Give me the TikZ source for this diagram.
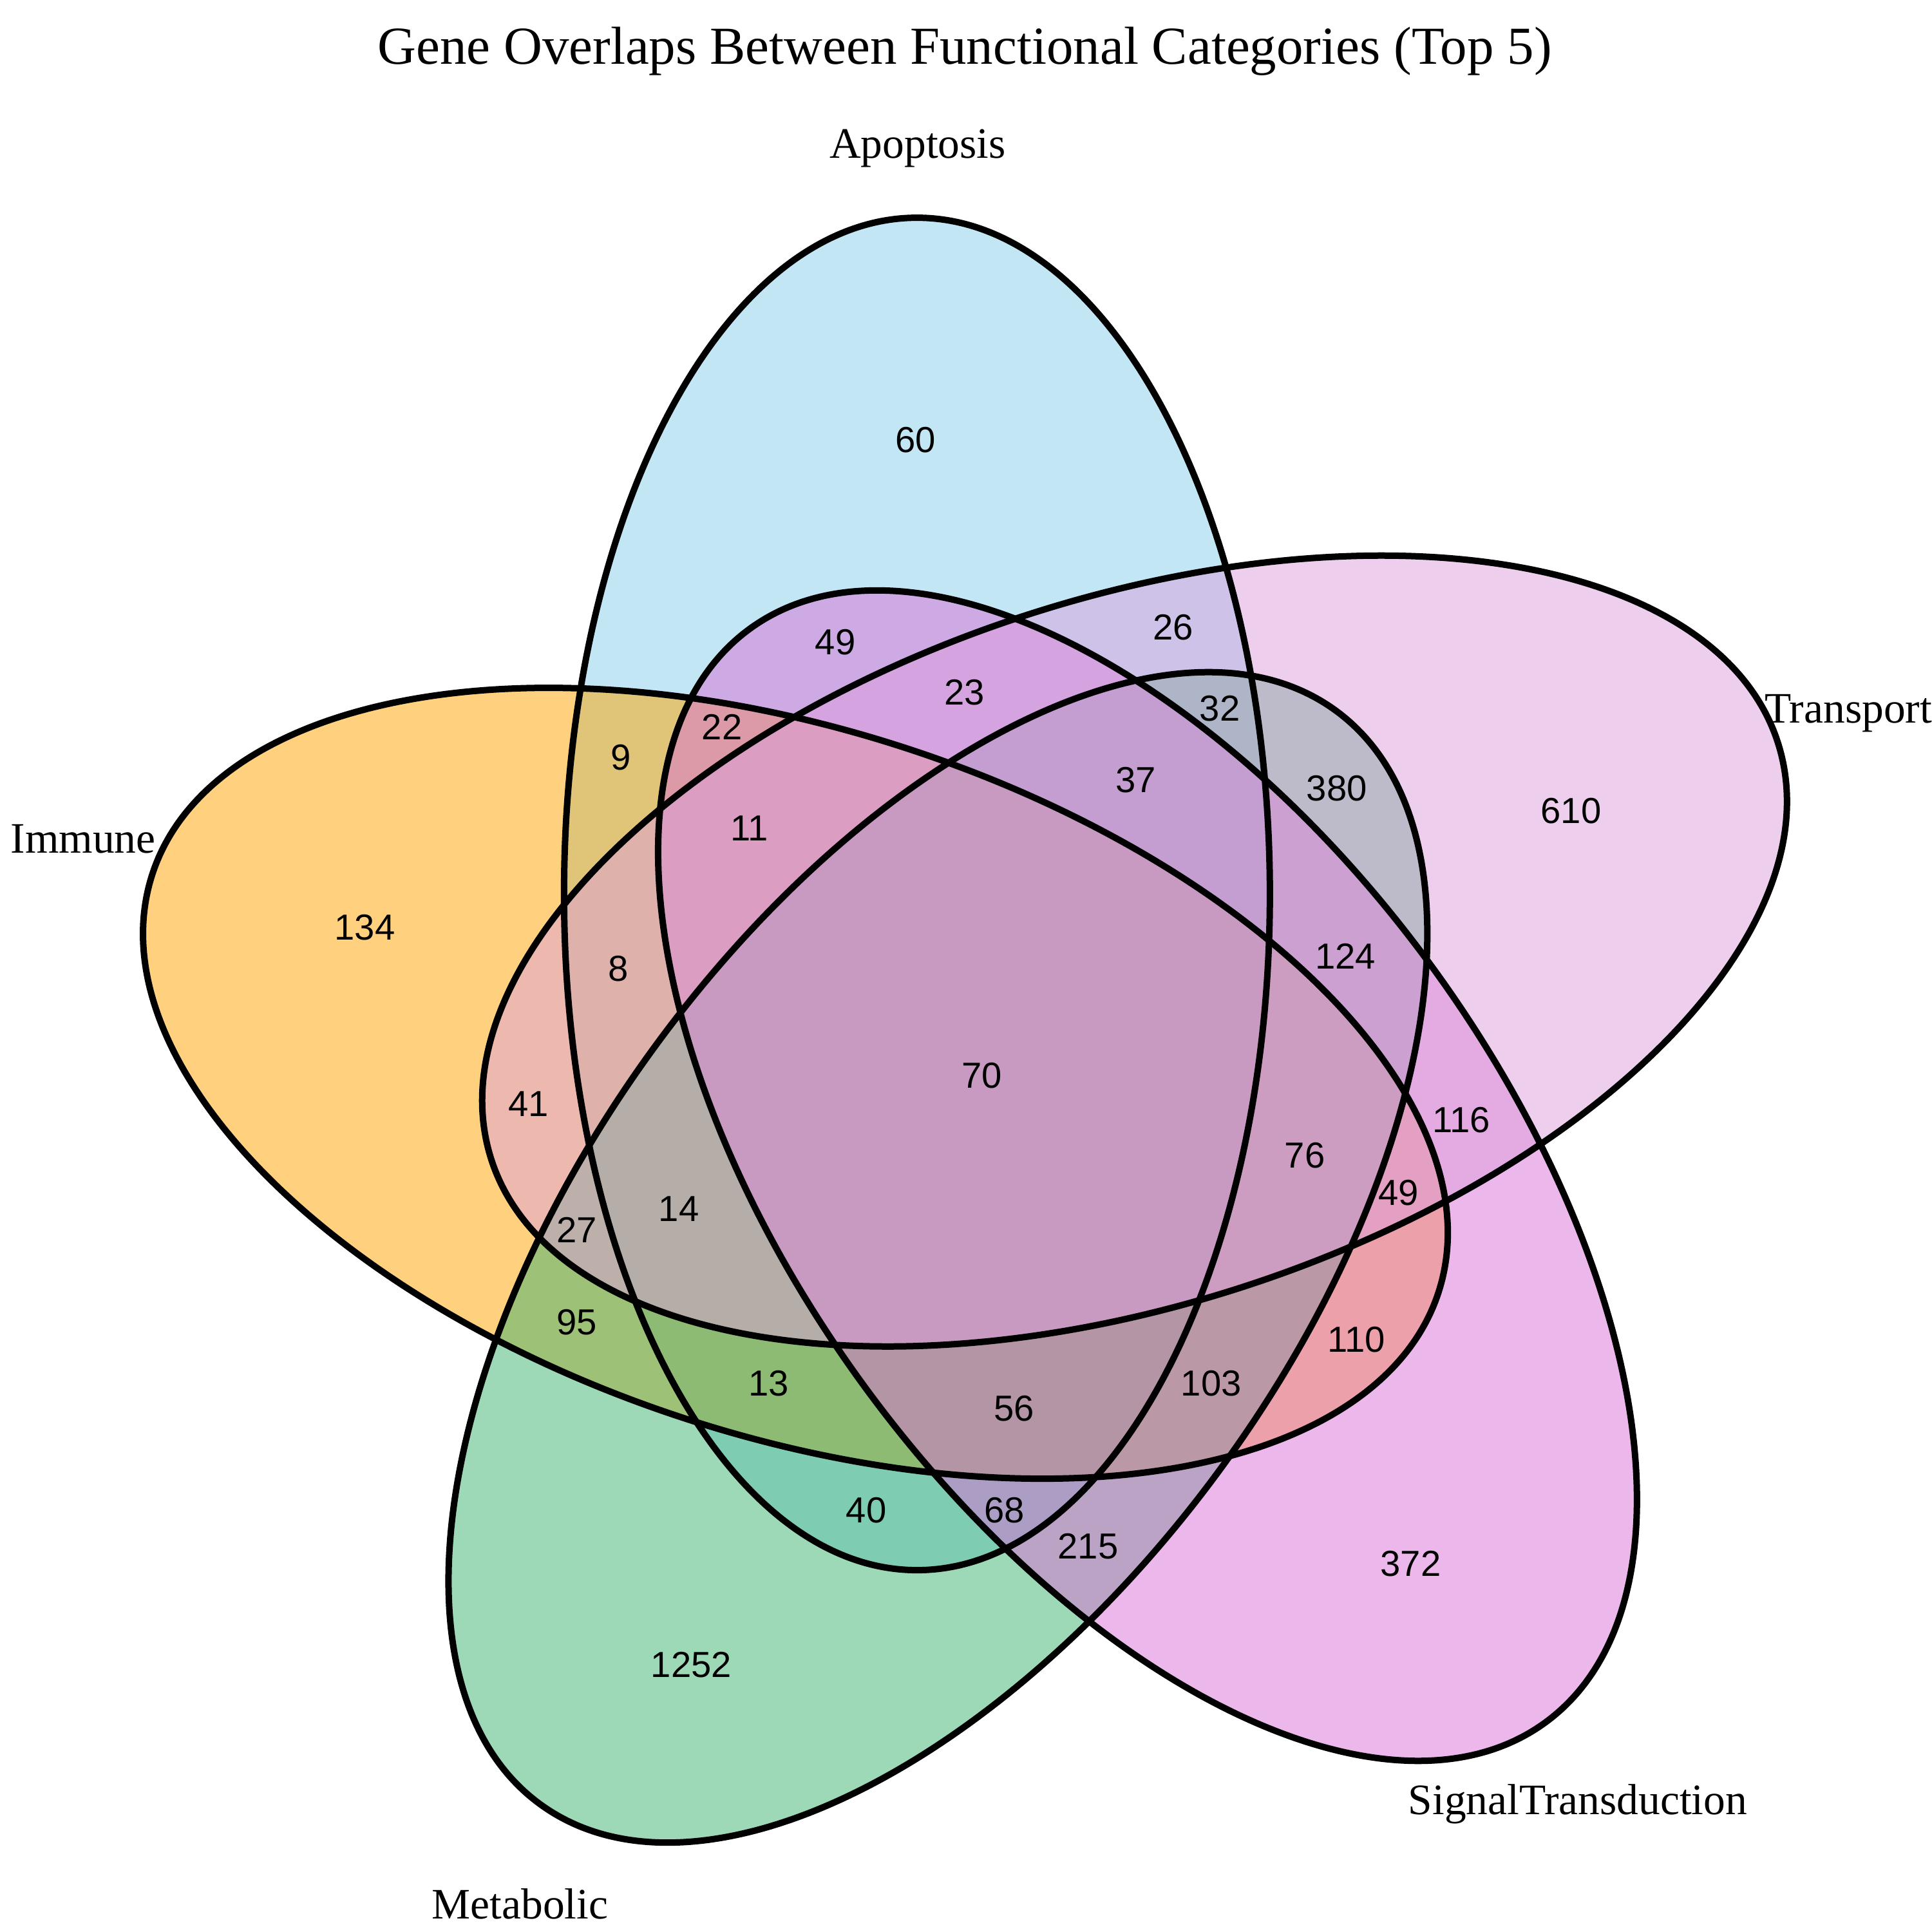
\documentclass[tikz,border=0pt]{standalone}
\usepackage{fontspec}
\setmainfont{Liberation Serif}
\newfontfamily\countfont{Liberation Sans}
\usepackage{tikz}
\usetikzlibrary{positioning}

\definecolor{apopblue}{RGB}{135,206,235}
\definecolor{immorange}{RGB}{255,165,0}
\definecolor{metagreen}{RGB}{60,179,113}
\definecolor{signalorchid}{RGB}{218,112,214}
\definecolor{transplum}{RGB}{221,160,221}

\begin{document}
\begin{tikzpicture}[
		setfill/.style={fill=#1, fill opacity=0.5},
		setline/.style={draw=black, line width=0.05cm},
		count/.style={font=\countfont\fontsize{8}{9}\selectfont},
		catname/.style={font=\fontsize{9.6}{11}\selectfont, anchor=base},
	]
		\useasboundingbox (0,0) rectangle (15,15);
		\fill[white] (0,0) rectangle (15,15);
		\coordinate (ctr) at (7.659,6.675);
		
		% five ellipses, each turned 72 degrees about the centre
		\foreach \rot/\col in {0/apopblue,72/immorange,144/metagreen,216/signalorchid,288/transplum}{
			\fill[setfill=\col, shift={(ctr)}, rotate=\rot] (111.3:1.486) ellipse [x radius=2.74, y radius=5.25];
		}
		\foreach \rot in {0,72,144,216,288}{
			\draw[setline, shift={(ctr)}, rotate=\rot] (111.3:1.486) ellipse [x radius=2.74, y radius=5.25];
		}
		
		% title and category names
		\node[catname, font=\fontsize{11.8}{14}\selectfont] (title) at (7.49,14.5) {Gene Overlaps Between Functional Categories (Top 5)};
		\node[catname] (apoptosis) at (7.125,13.77) {Apoptosis};
		\node[catname] (transport) at (14.35,9.385) {Transport};
		\node[catname] (immune) at (0.645,8.375) {Immune};
		\node[catname] (signal) at (12.25,0.91) {SignalTransduction};
		\node[catname] (metabolic) at (4.037,0.105) {Metabolic};
		
		% region counts
		\node[count] (a) at (7.108,11.585) {60};
		\node[count] (at) at (6.486,10.016) {49};
		\node[count] (as) at (9.107,10.131) {26};
		\node[count] (ats) at (7.490,9.624) {23};
		\node[count] (asm) at (9.471,9.499) {32};
		\node[count] (ait) at (5.606,9.356) {22};
		\node[count] (ai) at (4.821,9.117) {9};
		\node[count] (atsm) at (8.820,8.945) {37};
		\node[count] (sm) at (10.379,8.878) {380};
		\node[count] (aits) at (5.816,8.571) {11};
		\node[count] (s) at (12.197,8.705) {610};
		\node[count] (i) at (2.832,7.797) {134};
		\node[count] (ai2) at (4.802,7.481) {8};
		\node[count] (tsm) at (10.446,7.577) {124};
		\node[count] (all) at (7.624,6.649) {70};
		\node[count] (it) at (4.104,6.429) {41};
		\node[count] (ts) at (11.346,6.304) {116};
		\node[count] (itsm) at (10.131,6.027) {76};
		\node[count] (its) at (10.858,5.740) {49};
		\node[count] (itm) at (4.477,5.453) {27};
		\node[count] (aitm) at (5.271,5.615) {14};
		\node[count] (im) at (4.477,4.735) {95};
		\node[count] (itb) at (10.532,4.601) {110};
		\node[count] (aim) at (5.969,4.257) {13};
		\node[count] (itmb) at (9.404,4.257) {103};
		\node[count] (aimt) at (7.873,4.066) {56};
		\node[count] (am) at (6.725,3.272) {40};
		\node[count] (amt) at (7.797,3.272) {68};
		\node[count] (mt) at (8.447,2.994) {215};
		\node[count] (t) at (10.953,2.860) {372};
		\node[count] (m) at (5.367,2.076) {1252};
	\end{tikzpicture}
\end{document}
